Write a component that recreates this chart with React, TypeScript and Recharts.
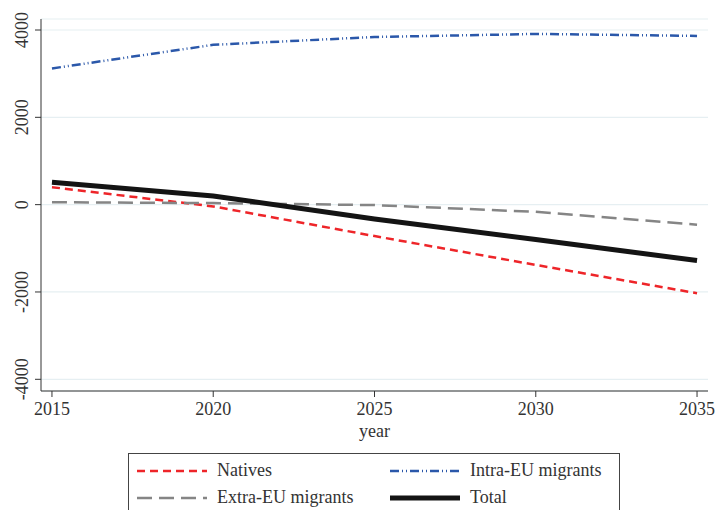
import React from "react";
import { LineChart, Line, XAxis, YAxis, CartesianGrid } from "recharts";

const years = [2015, 2020, 2025, 2030, 2035];
const natives = [400, -40, -720, -1380, -2030];
const intraEU = [3120, 3660, 3840, 3910, 3865];
const extraEU = [55, 35, -10, -165, -460];
const total = [515, 200, -330, -800, -1280];
const yTicks = [-4000, -2000, 0, 2000, 4000];
const xTicks = [2015, 2020, 2025, 2030, 2035];

const data = years.map((year, i) => ({
  year,
  natives: natives[i],
  intraEU: intraEU[i],
  extraEU: extraEU[i],
  total: total[i],
}));

const FONT = '"Liberation Serif"';
const FS = 18;

const series = [
  { key: "natives", name: "Natives", color: "#ee2529", width: 2.5, dash: "8 5" },
  { key: "intraEU", name: "Intra-EU migrants", color: "#2b58aa", width: 2.5, dash: "9 3 1 3 1 3" },
  { key: "extraEU", name: "Extra-EU migrants", color: "#858585", width: 2.5, dash: "15 7" },
  { key: "total", name: "Total", color: "#141414", width: 5, dash: undefined },
];

const YTick = (props: any) => {
  const { x, y, payload } = props;
  const cx = x - 5;
  return (
    <text
      x={cx}
      y={y}
      transform={`rotate(-90, ${cx}, ${y})`}
      textAnchor="middle"
      style={{ fontFamily: FONT, fontSize: FS }}
      fill="#333"
    >
      {payload.value}
    </text>
  );
};

const XTick = (props: any) => {
  const { x, y, payload } = props;
  return (
    <text x={x} y={y + 12} textAnchor="middle" style={{ fontFamily: FONT, fontSize: FS }} fill="#333">
      {payload.value}
    </text>
  );
};

const colWidths = [253, 235];

const LegendRow = ({ items }: { items: typeof series }) => (
  <div style={{ display: "flex", height: 27, alignItems: "center" }}>
    {items.map((s, i) => (
      <div key={s.key} style={{ display: "flex", alignItems: "center", width: colWidths[i], flexShrink: 0 }}>
        <svg width={80} height={10} style={{ marginLeft: 8, flexShrink: 0 }}>
          <line
            x1={0}
            y1={5}
            x2={70}
            y2={5}
            stroke={s.color}
            strokeWidth={s.width}
            strokeDasharray={s.dash}
          />
        </svg>
        <span style={{ fontFamily: FONT, fontSize: FS, color: "#333", whiteSpace: "nowrap" }}>{s.name}</span>
      </div>
    ))}
  </div>
);

export default function App() {
  return (
    <div style={{ position: "absolute", left: 0, top: 0, width: 715, height: 510, background: "#fff", overflow: "hidden" }}>
      <LineChart width={715} height={510} data={data} margin={{ top: 19, right: 7, bottom: 69, left: 0 }}>
        <CartesianGrid vertical={false} stroke="#e6eff2" strokeWidth={1.2} />
        <XAxis
          dataKey="year"
          type="number"
          domain={[2014.66, 2035.34]}
          ticks={xTicks}
          allowDataOverflow
          height={50}
          tickSize={6}
          tickMargin={6}
          stroke="#333"
          tick={<XTick />}
          label={{ value: "year", position: "insideBottom", offset: 4, style: { fontFamily: FONT, fontSize: FS }, fill: "#333" }}
        />
        <YAxis
          type="number"
          domain={[-4268, 4252]}
          ticks={yTicks}
          allowDataOverflow
          width={41}
          tickSize={6}
          stroke="#333"
          tick={<YTick />}
        />
        {series.map((s) => (
          <Line
            key={s.key}
            dataKey={s.key}
            name={s.name}
            type="linear"
            stroke={s.color}
            strokeWidth={s.width}
            strokeDasharray={s.dash}
            dot={false}
            isAnimationActive={false}
          />
        ))}
      </LineChart>
      <div
        style={{
          position: "absolute",
          left: 128,
          top: 453,
          width: 492,
          height: 70,
          border: "1px solid #444",
          paddingTop: 3,
          boxSizing: "border-box",
        }}
      >
        <LegendRow items={[series[0], series[1]]} />
        <LegendRow items={[series[2], series[3]]} />
      </div>
    </div>
  );
}
